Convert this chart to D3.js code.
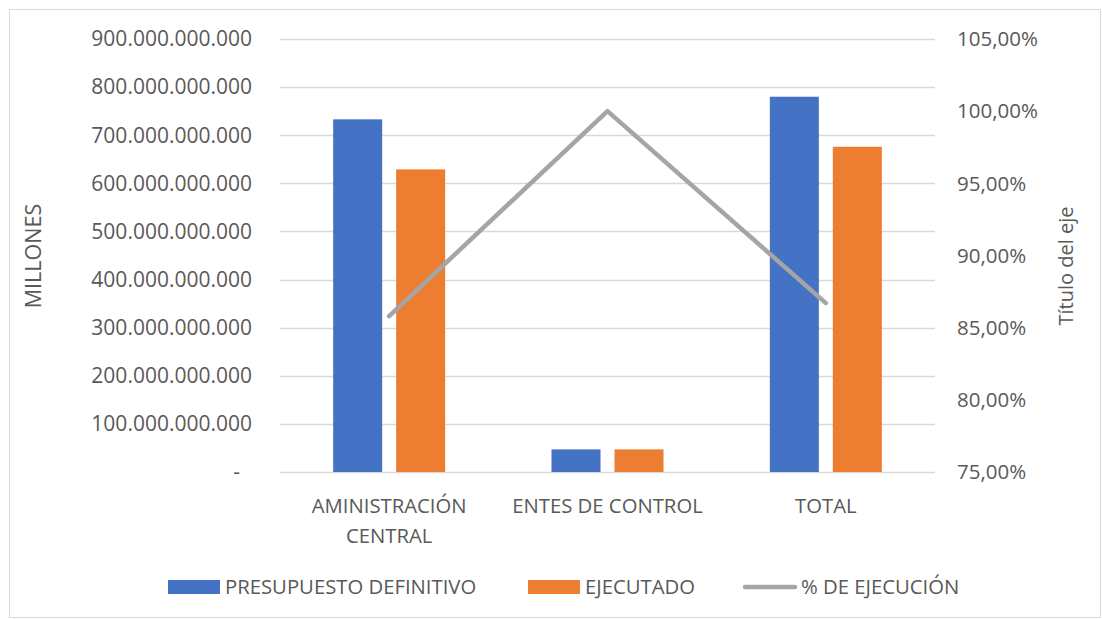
<!DOCTYPE html>
<html>
<head>
<meta charset="utf-8">
<script src="https://cdn.jsdelivr.net/npm/d3@7"></script>
<style>
  body { margin: 0; background: #fff; }
  text { font-family: "Open Sans", "Noto Sans", sans-serif; fill: #595959; }
</style>
</head>
<body>
<div id="chart"></div>
<script>
var categories = [["AMINISTRACIÓN", "CENTRAL"], ["ENTES DE CONTROL"], ["TOTAL"]];
var presupuesto = [733e9, 47e9, 780e9];
var ejecutado = [629e9, 47e9, 676e9];
var porcentaje = [85.8, 100, 86.7];
var leftTicks = [0, 100e9, 200e9, 300e9, 400e9, 500e9, 600e9, 700e9, 800e9, 900e9];
var rightTicks = [75, 80, 85, 90, 95, 100, 105];
var seriesNames = ["PRESUPUESTO DEFINITIVO", "EJECUTADO", "% DE EJECUCIÓN"];

var w = 1102, h = 619;
var colors = ["#4472C4", "#ED7D31", "#A5A5A5"];
var plot = { left: 280, right: 935, top: 39, bottom: 472 };

var svg = d3.select("#chart").append("svg").attr("width", w).attr("height", h);

svg.append("rect")
  .attr("x", 9.5).attr("y", 9.5)
  .attr("width", w - 11).attr("height", h - 11)
  .attr("fill", "none").attr("stroke", "#D9D9D9");

var x = d3.scaleBand().domain(d3.range(categories.length))
  .range([plot.left, plot.right]).paddingInner(0.487).paddingOuter(0.2435);
var xs = d3.scaleBand().domain([0, 1]).range([0, x.bandwidth()]).paddingInner(0.222);
var y = d3.scaleLinear().domain([0, 900e9]).range([plot.bottom, plot.top]);
var y2 = d3.scaleLinear().domain([75, 105]).range([plot.bottom, plot.top]);

// grid
svg.append("g").selectAll("line").data(leftTicks).enter().append("line")
  .attr("x1", plot.left).attr("x2", plot.right)
  .attr("y1", d => Math.round(y(d)) + 0.5).attr("y2", d => Math.round(y(d)) + 0.5)
  .attr("stroke", "#D9D9D9").attr("stroke-width", 1.3);

// left axis labels
var fmt = d => d === 0 ? "-" : d3.format(",")(d).replace(/,/g, ".");
svg.append("g").selectAll("text").data(leftTicks).enter().append("text")
  .attr("x", d => d === 0 ? 240 : 252).attr("y", d => y(d)).attr("dy", "0.35em")
  .attr("text-anchor", "end").attr("font-size", 21)
  .text(fmt);

// right axis labels
svg.append("g").selectAll("text").data(rightTicks).enter().append("text")
  .attr("x", 957).attr("y", d => y2(d)).attr("dy", "0.35em")
  .attr("text-anchor", "start").attr("font-size", 20.5)
  .text(d => d.toFixed(2).replace(".", ",") + "%");

// axis titles
svg.append("text").attr("transform", "translate(33,256) rotate(-90)")
  .attr("text-anchor", "middle").attr("dy", "0.35em").attr("font-size", 21.5).text("MILLONES");
svg.append("text").attr("transform", "translate(1066,266) rotate(-90)")
  .attr("text-anchor", "middle").attr("dy", "0.35em").attr("font-size", 20).text("Título del eje");

// bars
[presupuesto, ejecutado].forEach(function (vals, s) {
  svg.append("g").selectAll("rect").data(vals).enter().append("rect")
    .attr("x", (d, i) => x(i) + xs(s))
    .attr("width", xs.bandwidth())
    .attr("y", d => y(d))
    .attr("height", d => y(0) - y(d))
    .attr("fill", colors[s]);
});

// line
var line = d3.line().x((d, i) => x(i) + x.bandwidth() / 2).y(d => y2(d));
svg.append("path").datum(porcentaje)
  .attr("d", line).attr("fill", "none")
  .attr("stroke", colors[2]).attr("stroke-width", 4.5)
  .attr("stroke-linecap", "round").attr("stroke-linejoin", "round");

// category labels
var cat = svg.append("g").selectAll("text").data(categories).enter().append("text")
  .attr("x", (d, i) => x(i) + x.bandwidth() / 2)
  .attr("y", 513).attr("text-anchor", "middle").attr("font-size", 20.3);
cat.selectAll("tspan").data(d => d).enter().append("tspan")
  .attr("x", function () { return d3.select(this.parentNode).attr("x"); })
  .attr("dy", (d, i) => i === 0 ? 0 : 30)
  .text(d => d);

// legend
var legend = [
  { x: 168, tx: 225 },
  { x: 528, tx: 585 },
  { x: 743, tx: 801 }
];
legend.forEach(function (l, i) {
  if (i < 2) {
    svg.append("rect").attr("x", l.x).attr("y", 580).attr("width", 52).attr("height", 14)
      .attr("fill", colors[i]);
  } else {
    svg.append("line").attr("x1", l.x + 2).attr("x2", l.x + 52).attr("y1", 587).attr("y2", 587)
      .attr("stroke", colors[2]).attr("stroke-width", 4.5).attr("stroke-linecap", "round");
  }
  svg.append("text").attr("x", l.tx).attr("y", 587).attr("dy", "0.35em")
    .attr("font-size", 20.3).text(seriesNames[i]);
});
</script>
</body>
</html>
